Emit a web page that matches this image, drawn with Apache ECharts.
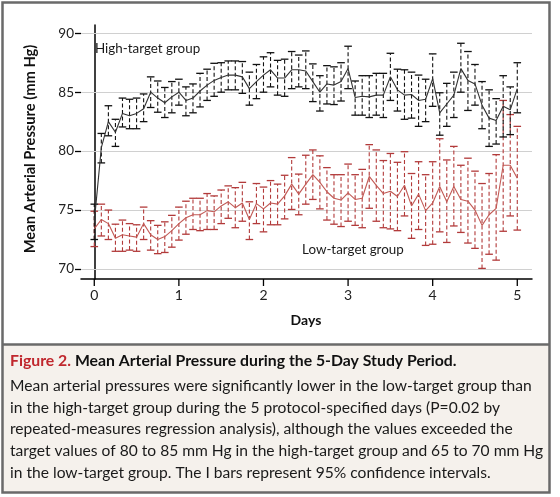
<!DOCTYPE html>
<html>
<head>
<meta charset="utf-8">
<script src="https://cdn.jsdelivr.net/npm/echarts@6/dist/echarts.min.js"></script>
<style>
html,body{margin:0;padding:0;background:#fff;}
#chart{width:560px;height:497px;}
</style>
</head>
<body>
<div id="chart"></div>
<script>
// Time points every 2 hours over 5 days (index i -> day i/12)
const dayTicks = [0, 1, 2, 3, 4, 5];
const yTicks = [70, 75, 80, 85, 90];

const highMean = [74.0,80.3,82.5,81.6,83.2,83.0,83.2,83.6,85.0,84.5,84.1,84.6,85.0,84.3,84.5,85.1,85.6,86.0,86.25,86.45,86.45,86.3,85.3,85.9,86.45,86.9,86.2,86.2,86.9,86.9,86.8,85.9,85.0,85.7,85.6,85.9,87.0,84.55,84.65,84.6,84.75,84.75,86.3,85.2,84.75,84.8,84.3,84.4,86.15,83.25,84.0,84.75,87.0,86.0,85.7,83.9,82.8,82.6,83.8,83.5,85.3];
const highLow = [72.5,79.0,81.3,80.4,82.05,81.9,81.9,82.5,83.7,83.3,82.85,83.25,83.9,83.0,83.25,83.75,84.3,84.65,85.0,85.2,85.2,84.9,83.9,84.45,85.0,85.45,84.75,84.65,85.3,85.45,85.3,84.2,83.4,84.0,83.95,84.25,85.3,83.05,83.05,82.85,83.05,82.85,84.3,83.4,82.7,82.8,82.1,82.5,83.8,81.35,82.1,82.85,85.0,83.45,83.9,81.9,80.4,80.6,81.2,81.4,83.25];
const highHigh = [75.5,81.5,83.85,82.7,84.5,84.4,84.5,84.85,86.3,85.95,85.4,85.9,86.1,85.45,85.7,86.6,86.95,87.45,87.5,87.65,87.65,87.6,86.7,87.35,88.0,88.35,87.7,87.8,88.45,88.15,88.5,87.4,86.4,87.25,87.15,87.5,88.9,85.95,86.4,86.4,86.6,86.6,88.3,86.95,86.9,86.7,86.45,86.1,88.25,84.95,85.75,86.7,89.15,88.45,87.35,85.9,85.2,84.45,86.4,85.45,87.5];

const lowMean = [73.4,74.2,73.85,72.6,72.9,72.8,72.7,73.85,72.9,72.5,72.75,73.25,73.85,74.35,74.6,74.6,74.95,74.85,75.35,75.7,75.2,75.6,74.2,75.55,75.1,75.6,75.5,76.2,77.2,76.35,77.2,78.0,77.35,76.55,76.0,75.85,76.45,75.9,76.0,77.85,77.1,76.4,76.6,76.15,77.1,75.35,76.35,74.95,75.6,77.0,75.7,77.0,75.9,75.75,75.0,73.7,74.6,75.15,78.8,78.8,77.7];
const lowLow = [71.9,72.8,72.5,71.5,71.5,71.6,71.5,72.5,71.6,71.3,71.4,71.85,72.45,72.95,73.35,73.25,73.35,73.35,73.85,74.3,73.5,74.05,72.5,73.85,73.15,73.75,73.75,74.25,75.05,74.6,75.5,75.9,75.1,74.15,73.8,73.6,74.05,73.7,73.5,75.15,74.05,73.5,73.4,73.25,74.5,72.6,73.35,72.0,72.1,73.15,72.25,73.65,73.1,72.2,71.75,70.05,71.25,70.75,73.2,74.5,73.3];
const lowHigh = [74.9,75.5,75.0,73.8,74.15,73.85,73.75,75.25,74.1,73.7,74.0,74.55,75.25,75.75,76.0,76.0,76.4,76.2,76.7,77.05,76.9,77.35,75.7,77.25,76.95,77.5,77.2,77.95,79.45,78.05,79.65,80.1,79.6,78.6,78.0,78.0,78.9,78.0,78.45,80.55,80.1,79.2,79.8,79.05,79.95,78.1,79.1,78.0,79.1,81.05,79.25,80.4,78.8,79.4,78.3,77.25,78.1,79.7,84.3,83.1,82.1];

const captionTitleRed = 'Figure 2.';
const captionTitle = ' Mean Arterial Pressure during the 5-Day Study Period.';
const captionLines = [
  'Mean arterial pressures were significantly lower in the low-target group than',
  'in the high-target group during the 5 protocol-specified days (P=0.02 by',
  'repeated-measures regression analysis), although the values exceeded the',
  'target values of 80 to 85 mm Hg in the high-target group and 65 to 70 mm Hg',
  'in the low-target group. The I bars represent 95% confidence intervals.'
];

const FONT = 'Lato, "Open Sans", sans-serif';
const BLACK = '#111111';
const RED = '#b23a3a';

function dayOf(i){ return i / 12; }
const highLine = highMean.map((v,i)=>[dayOf(i), v]);
const lowLine = lowMean.map((v,i)=>[dayOf(i), v]);
const highBars = highLow.map((v,i)=>[dayOf(i), v, highHigh[i]]);
const lowBars = lowLow.map((v,i)=>[dayOf(i), v, lowHigh[i]]);

function barRenderer(color){
  return function(params, api){
    const x = api.value(0);
    const pLo = api.coord([x, api.value(1)]);
    const pHi = api.coord([x, api.value(2)]);
    const hw = 3.8;
    return {
      type: 'group',
      children: [
        {type:'line', shape:{x1:pLo[0], y1:pLo[1], x2:pHi[0], y2:pHi[1]}, style:{stroke:color, lineWidth:1.1, lineDash:[4,2.5]}},
        {type:'line', shape:{x1:pHi[0]-hw, y1:pHi[1], x2:pHi[0]+hw, y2:pHi[1]}, style:{stroke:color, lineWidth:1.3}},
        {type:'line', shape:{x1:pLo[0]-hw, y1:pLo[1], x2:pLo[0]+hw, y2:pLo[1]}, style:{stroke:color, lineWidth:1.3}}
      ]
    };
  };
}

// y ticks + horizontal gridlines
function yTickRenderer(params, api){
  const cs = params.coordSys;
  const p = api.coord([0, api.value(0)]);
  const y = Math.round(p[1]) + 0.5;
  return {type:'group', children:[
    {type:'line', z2:0, shape:{x1:cs.x, y1:y, x2:cs.x+cs.width, y2:y}, style:{stroke:'#d0d0d0', lineWidth:1}},
    {type:'line', z2:1, shape:{x1:cs.x-6, y1:y, x2:cs.x, y2:y}, style:{stroke:'#000', lineWidth:1.3}}
  ]};
}
// x ticks
function xTickRenderer(params, api){
  const cs = params.coordSys;
  const p = api.coord([api.value(0), 80]);
  const yb = cs.y + cs.height;
  return {type:'line', shape:{x1:p[0], y1:yb, x2:p[0], y2:yb+7}, style:{stroke:'#000', lineWidth:1.3}};
}

const chart = echarts.init(document.getElementById('chart'), null, {renderer:'canvas'});
const textGraphics = captionLines.map((t, k) => ({
  type:'text', left:10, top: 378 + k*21.7,
  style:{text:t, fontFamily:FONT, fontSize:15.6, fill:'#1a1a1a'}
}));

chart.setOption({
  animation:false,
  backgroundColor:'#ffffff',
  grid:{left:81, right:28, top:25, bottom:218, containLabel:false},
  xAxis:{
    type:'value', min:-0.157, max:5.174,
    axisLine:{show:true, lineStyle:{color:'#000', width:1.5}},
    axisTick:{show:false},
    axisLabel:{customValues:dayTicks, fontFamily:FONT, fontSize:14, color:'#222', margin:9},
    splitLine:{show:false}
  },
  yAxis:{
    type:'value', min:69.15, max:90.7,
    axisLine:{show:true, lineStyle:{color:'#000', width:1.5}},
    axisTick:{show:false},
    axisLabel:{customValues:yTicks, fontFamily:FONT, fontSize:13.5, color:'#222', margin:7},
    splitLine:{show:false}
  },
  series:[
    {type:'custom', renderItem:yTickRenderer, data:yTicks.map(v=>[v]), clip:false, silent:true, z:1, encode:{y:0}},
    {type:'custom', renderItem:xTickRenderer, data:dayTicks.map(v=>[v]), clip:false, silent:true, z:1, encode:{x:0}},
    {type:'custom', renderItem:barRenderer(RED), data:lowBars, z:2, encode:{x:0, y:[1,2]}},
    {type:'line', data:lowLine, symbol:'none', z:3, lineStyle:{color:'#c25a55', width:1.1}},
    {type:'custom', renderItem:barRenderer(BLACK), data:highBars, z:4, encode:{x:0, y:[1,2]}},
    {type:'line', data:highLine, symbol:'none', z:5, lineStyle:{color:'#333', width:1.1}}
  ],
  graphic:[
    {type:'rect', z:-10, shape:{x:2.5, y:345, width:547, height:147}, style:{fill:'#f5f1ec'}, silent:true},
    {type:'rect', z:50, shape:{x:2.5, y:2.5, width:547, height:490}, style:{fill:null, stroke:'#6a6a6a', lineWidth:2.5}, silent:true},
    {type:'line', z:50, shape:{x1:2.5, y1:344.5, x2:549.5, y2:344.5}, style:{stroke:'#6a6a6a', lineWidth:2.5}, silent:true},
    {type:'text', left:95, top:42, style:{text:'High-target group', fontFamily:FONT, fontSize:13.4, fill:'#1a1a1a'}},
    {type:'text', left:302, top:243, style:{text:'Low-target group', fontFamily:FONT, fontSize:13.4, fill:'#1a1a1a'}},
    {type:'text', x:306, y:320, style:{text:'Days', fontFamily:FONT, fontWeight:'bold', fontSize:14, fill:'#111', align:'center', verticalAlign:'middle'}},
    {type:'text', x:30, y:149, rotation:Math.PI/2, style:{text:'Mean Arterial Pressure (mm Hg)', fontFamily:FONT, fontWeight:'bold', fontSize:14.7, fill:'#111', align:'center', verticalAlign:'middle'}},
    {type:'text', left:10, top:353, style:{
      text:'{r|' + captionTitleRed + '}{b|' + captionTitle + '}',
      rich:{
        r:{fontFamily:FONT, fontSize:15.8, fontWeight:'bold', fill:'#c0272d', color:'#c0272d'},
        b:{fontFamily:FONT, fontSize:15.8, fontWeight:'bold', fill:'#111', color:'#111'}
      }
    }}
  ].concat(textGraphics)
});
</script>
</body>
</html>
